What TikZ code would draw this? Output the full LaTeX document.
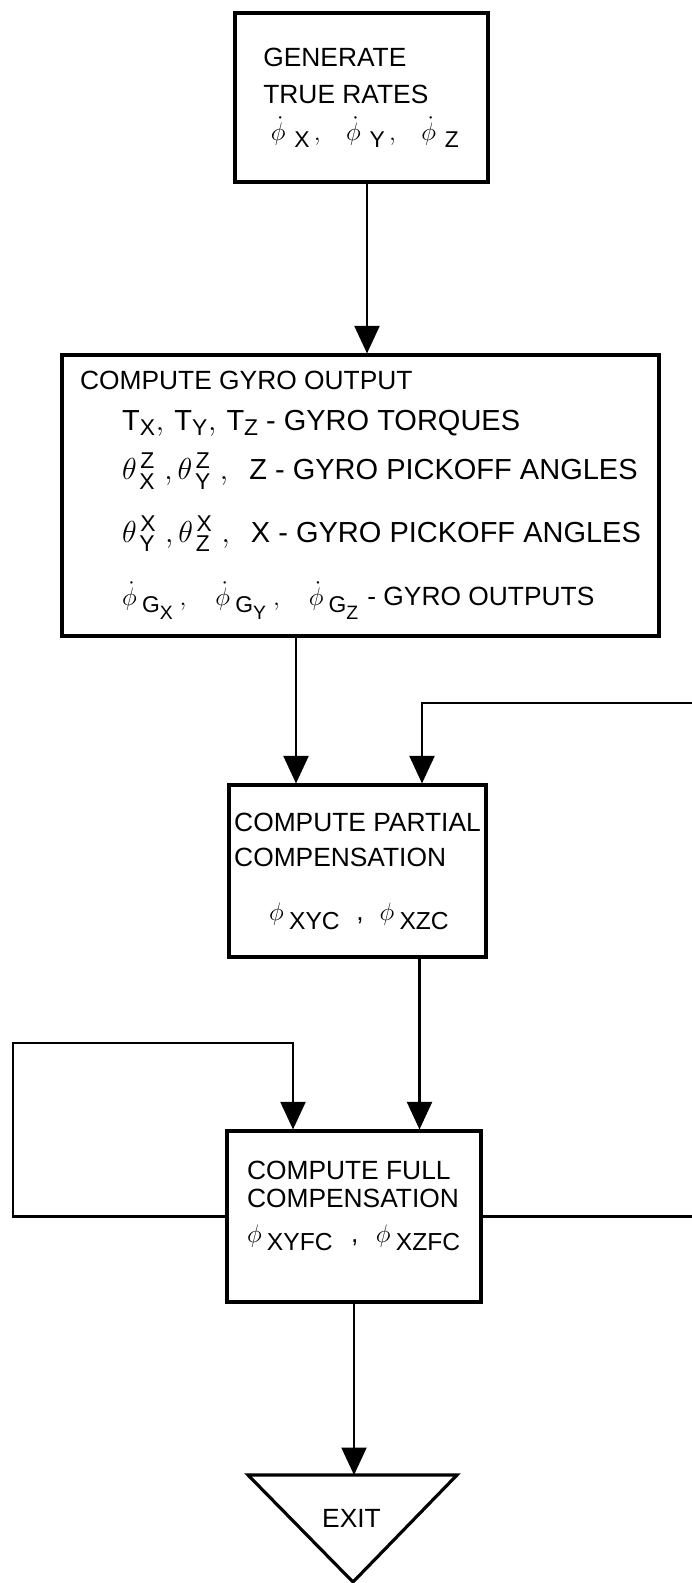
\documentclass[tikz,border=0pt]{standalone}
\usepackage{amsmath}
\usepackage{fontspec}
\setmainfont{Liberation Sans}
\usetikzlibrary{arrows.meta, positioning, calc}
% letters hung on a symbol, as large as on the drawing
\newcommand{\subtxt}[2][13]{\text{\fontsize{#1}{#1}\selectfont #2}}

\begin{document}
\begin{tikzpicture}[>={Triangle[length=5.5mm, width=5mm]},
    font=\fontsize{15}{20}\selectfont,
    box/.style={draw, line width=1.8pt, align=left, inner sep=0pt},
    flow/.style={->, line width=1.2pt},
    wire/.style={line width=1.2pt}]
  \useasboundingbox (0,0) rectangle (13.84,-31.66);
  % true rates
  \node[box, minimum width=5.06cm, minimum height=3.38cm] (gen) at (7.23,-1.95)
    {GENERATE\\[1pt]TRUE RATES\\[1pt]\hspace{0.15cm}%
     $\dot{\phi}_{\hspace{5pt}\subtxt{X}}\hspace{2pt},\hspace{12pt}\dot{\phi}_{\hspace{5pt}\subtxt{Y}}\hspace{2pt},\hspace{12pt}\dot{\phi}_{\hspace{5pt}\subtxt{Z}}$};
  % gyro output
  \node[box, minimum width=11.94cm, minimum height=5.62cm, font=\fontsize{16.5}{20}\selectfont] (gyro) at (7.21,-9.91)
    {{\fontsize{15}{20}\selectfont COMPUTE GYRO OUTPUT}\\[3pt]
     \hspace{0.84cm}$\text{T}_{\subtxt{X}},\,\text{T}_{\subtxt{Y}},\,\text{T}_{\subtxt{Z}}$\hspace{4pt}- GYRO TORQUES\\[8pt]
     \hspace{0.84cm}$\theta^{\hspace{2pt}\subtxt{Z}}_{\hspace{2pt}\subtxt{X}}\hspace{5pt},\theta^{\hspace{2pt}\subtxt{Z}}_{\hspace{2pt}\subtxt{Y}}\hspace{5pt},$\hspace{12pt}Z - GYRO PICKOFF ANGLES\\[14pt]
     \hspace{0.84cm}$\theta^{\hspace{2pt}\subtxt{X}}_{\hspace{2pt}\subtxt{Y}}\hspace{5pt},\theta^{\hspace{2pt}\subtxt{X}}_{\hspace{2pt}\subtxt{Z}}\hspace{5pt},$\hspace{12pt}X - GYRO PICKOFF ANGLES\\[16pt]
     {\fontsize{15}{20}\selectfont\hspace{0.84cm}%
     $\dot{\phi}_{\hspace{3pt}\subtxt{G}_{\subtxt[11]{X}}}\hspace{3pt},\hspace{14pt}\dot{\phi}_{\hspace{3pt}\subtxt{G}_{\subtxt[11]{Y}}}\hspace{3pt},\hspace{14pt}\dot{\phi}_{\hspace{3pt}\subtxt{G}_{\subtxt[11]{Z}}}$ - GYRO OUTPUTS}};
  % partial compensation
  \node[box, minimum width=5.14cm, minimum height=3.44cm] (part) at (7.15,-17.42)
    {COMPUTE PARTIAL\\COMPENSATION\\[11pt]\hspace{0.7cm}%
     $\phi_{\hspace{3pt}\subtxt[14]{XYC}}$\hspace{9pt},\hspace{9pt}$\phi_{\hspace{3pt}\subtxt[14]{XZC}}$};
  % full compensation
  \node[box, minimum width=5.08cm, minimum height=3.42cm, font=\fontsize{15}{16}\selectfont] (full) at (7.08,-24.33)
    {COMPUTE FULL\\COMPENSATION\\[4pt]%
     $\phi_{\hspace{3pt}\subtxt[14]{XYFC}}$\hspace{10pt},\hspace{10pt}$\phi_{\hspace{3pt}\subtxt[14]{XZFC}}$\rule[-17pt]{0pt}{0pt}};
  % exit
  \node (exit) at (7.03,-30.36) {EXIT};
  \draw[line width=1.8pt] (4.96,-29.5) -- (9.14,-29.5) -- (7.06,-31.64) -- cycle;
  \coordinate (exittop) at (7.06,-29.5);

  \draw[flow] ($(gen.south)+(0.11,0)$) -- ($(gen.south |- gyro.north)+(0.11,0)$);
  \coordinate (a1) at ([xshift=-1.29cm]gyro.south);
  \draw[flow] (a1) -- (a1 |- part.north);
  % feedback from the right
  \coordinate (fbin) at (13.84,-14.06);
  \draw[flow] (fbin) -| ([xshift=1.29cm]part.north);
  \coordinate (a3) at ([xshift=1.24cm]part.south);
  \draw[flow] (a3) -- (a3 |- full.north);
  % loop on the left
  \coordinate (lp) at (0.26,-20.86);
  \draw[flow] (full.west) -| (lp) -| ([xshift=-1.22cm]full.north);
  % out to the right
  \coordinate (fbout) at (13.84,-24.34);
  \draw[wire] (full.east) -- (full.east -| fbout);
  \draw[flow] (full.south) -- (full.south |- exittop);
\end{tikzpicture}
\end{document}
